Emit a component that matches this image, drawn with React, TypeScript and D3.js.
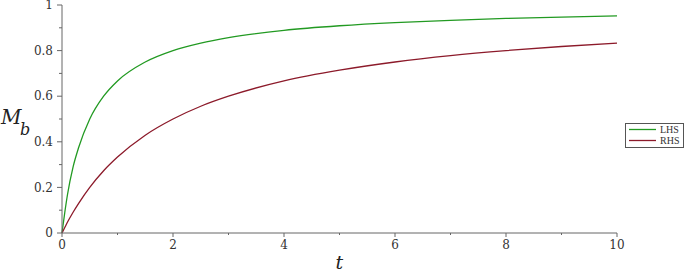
import * as d3 from "d3";
import React from "react";

const width = 685;
const height = 272;
const margin = { top: 5, right: 69, bottom: 39, left: 62 };

// values
const tValues = [0, 0.05, 0.1, 0.2, 0.3, 0.5, 0.75, 1, 1.5, 2, 2.5, 3, 4, 5, 6, 7, 8, 9, 10];
const lhsValues = [0, 0.09, 0.17, 0.29, 0.375, 0.5, 0.6, 0.667, 0.75, 0.8, 0.833, 0.857, 0.889, 0.909, 0.923, 0.933, 0.941, 0.947, 0.952];
const rhsValues = [0, 0.024, 0.048, 0.091, 0.13, 0.2, 0.273, 0.333, 0.429, 0.5, 0.556, 0.6, 0.667, 0.714, 0.75, 0.778, 0.8, 0.818, 0.833];

const xTicks = [0, 2, 4, 6, 8, 10];
const xMinorTicks = [1, 3, 5, 7, 9];
const yTicks = [0, 0.2, 0.4, 0.6, 0.8, 1];
const yMinorTicks = [0.1, 0.3, 0.5, 0.7, 0.9];

const seriesNames = ["LHS", "RHS"];
const seriesColors = ["#229a22", "#8c1a2a"];

const axisColor = "#666";
const font = "'DejaVu Serif', serif";

const App = () => {
  const x = d3.scaleLinear().domain([0, 10]).range([margin.left, width - margin.right + 1]);
  const y = d3.scaleLinear().domain([0, 1]).range([height - margin.bottom, margin.top]);

  const line = d3
    .line<number>()
    .x((_, i) => x(tValues[i]))
    .y((d) => y(d))
    .curve(d3.curveMonotoneX);

  const series = [lhsValues, rhsValues];
  const x0 = x(0);
  const y0 = y(0);

  return (
    <svg
      width={width}
      height={height}
      style={{ position: "absolute", left: 0, top: 0, background: "white" }}
    >
      {/* curves */}
      {series.map((vals, i) => (
        <path key={i} d={line(vals) || ""} fill="none" stroke={seriesColors[i]} strokeWidth={1.3} />
      ))}

      {/* y axis */}
      <line x1={x0} x2={x0} y1={y(1)} y2={y0} stroke={axisColor} strokeWidth={1} />
      {yTicks.map((t) => (
        <g key={t}>
          <line x1={x0 - 5} x2={x0} y1={y(t)} y2={y(t)} stroke={axisColor} />
          <text
            x={x0 - 9}
            y={y(t)}
            dy="0.35em"
            textAnchor="end"
            fontFamily={font}
            fontSize={12}
            fill="#333"
          >
            {t}
          </text>
        </g>
      ))}
      {yMinorTicks.map((t) => (
        <line key={t} x1={x0 - 3} x2={x0} y1={y(t)} y2={y(t)} stroke={axisColor} />
      ))}

      {/* x axis */}
      <line x1={x0} x2={x(10)} y1={y0} y2={y0} stroke={axisColor} strokeWidth={1} />
      {xTicks.map((t) => (
        <g key={t}>
          <line x1={x(t)} x2={x(t)} y1={y0} y2={y0 + 4} stroke={axisColor} />
          <text
            x={x(t)}
            y={y0 + 16}
            textAnchor="middle"
            fontFamily={font}
            fontSize={12}
            fill="#333"
          >
            {t}
          </text>
        </g>
      ))}
      {xMinorTicks.map((t) => (
        <line key={t} x1={x(t)} x2={x(t)} y1={y0} y2={y0 + 2} stroke={axisColor} />
      ))}

      {/* axis titles */}
      <text x={x(5) - 4} y={269} fontFamily={font} fontStyle="italic" fontSize={19} fill="#222">
        t
      </text>
      <text x={1} y={124} fontFamily={font} fontStyle="italic" fontSize={20} fill="#222">
        M
      </text>
      <text x={20} y={135} fontFamily={font} fontStyle="italic" fontSize={16} fill="#222">
        b
      </text>

      {/* legend */}
      <rect x={625.5} y={123.5} width={58} height={24} fill="white" stroke="#555" strokeWidth={1} />
      {seriesNames.map((name, i) => (
        <g key={name}>
          <line
            x1={629}
            x2={656}
            y1={129.5 + i * 11}
            y2={129.5 + i * 11}
            stroke={seriesColors[i]}
            strokeWidth={1.3}
          />
          <text
            x={660}
            y={129.5 + i * 11}
            dy="0.35em"
            fontFamily="'Liberation Serif', serif"
            fontSize={10}
            fill="#333"
          >
            {name}
          </text>
        </g>
      ))}
    </svg>
  );
};

export default App;
